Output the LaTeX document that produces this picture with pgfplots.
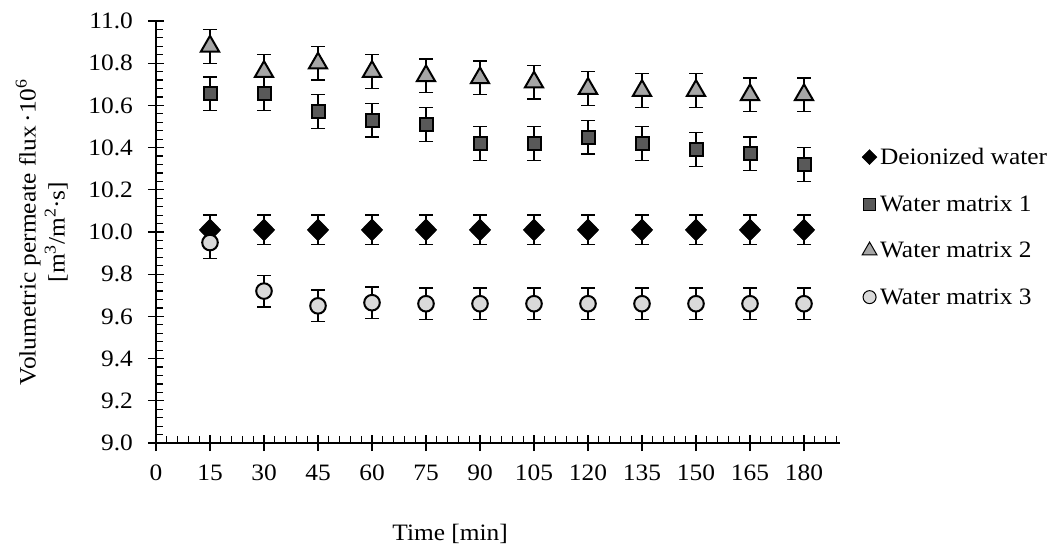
\documentclass[border=0pt]{standalone}
\usepackage{pgfplots}
\usepackage{pgfplotstable}
\pgfplotsset{compat=1.18}
\usepackage{fontspec}
\setmainfont{Liberation Serif}[FakeStretch=1.08]
\newcommand\fs{\fontsize{23.5bp}{29bp}\selectfont}
\definecolor{dg}{HTML}{595959}
\definecolor{mg}{HTML}{A6A6A6}
\definecolor{lg}{HTML}{D9D9D9}

\pgfplotstableread{
x y e
15 10.01 0.07
30 10.01 0.07
45 10.01 0.07
60 10.01 0.07
75 10.01 0.07
90 10.01 0.07
105 10.01 0.07
120 10.01 0.07
135 10.01 0.07
150 10.01 0.07
165 10.01 0.07
180 10.01 0.07
}\deion
\pgfplotstableread{
x y e
15 10.655 0.08
30 10.655 0.08
45 10.57 0.08
60 10.53 0.08
75 10.51 0.08
90 10.42 0.08
105 10.42 0.08
120 10.45 0.08
135 10.42 0.08
150 10.39 0.08
165 10.37 0.08
180 10.32 0.08
}\wmone
\pgfplotstableread{
x y e
15 10.88 0.08
30 10.76 0.08
45 10.80 0.08
60 10.76 0.08
75 10.74 0.08
90 10.73 0.08
105 10.71 0.08
120 10.68 0.08
135 10.67 0.08
150 10.67 0.08
165 10.65 0.08
180 10.65 0.08
}\wmtwo
\pgfplotstableread{
x y e
15 9.95 0.075
30 9.72 0.075
45 9.65 0.075
60 9.665 0.075
75 9.66 0.075
90 9.66 0.075
105 9.66 0.075
120 9.66 0.075
135 9.66 0.075
150 9.66 0.075
165 9.66 0.075
180 9.66 0.075
}\wmthree

\begin{document}
\begin{tikzpicture}
\path[use as bounding box] (0,0) rectangle (1063bp,547bp);
\begin{axis}[
  at={(156bp,104bp)}, anchor=south west,
  scale only axis, width=684bp, height=422bp,
  xmin=0, xmax=190, ymin=9, ymax=11,
  axis lines*=left,
  axis line style={line width=1.3bp},
  xtick={0,15,...,180},
  minor xtick={3,6,...,189},
  ytick={9,9.2,...,11.01},
  minor y tick num=4,
  tick align=inside,
  major tick length=16bp, minor tick length=7bp,
  tick style={black, line width=1.2bp},
  major x tick style={yshift=-8bp},
  major y tick style={xshift=-8bp},
  /pgf/number format/assume math mode=true,
  yticklabel={\pgfmathprintnumber[fixed,fixed zerofill,precision=1]{\tick}},
  xticklabel={\pgfmathprintnumber[fixed,precision=0]{\tick}},
  tick label style={font=\fs, inner sep=0pt},
  yticklabel style={anchor=east, xshift=-23bp},
  xticklabel style={anchor=north, yshift=-22bp},
  ylabel={Volumetric permeate flux\,·10\textsuperscript{6}\\{[}m\textsuperscript{3}/m\textsuperscript{2}·s{]}},
  ylabel style={font=\fs, align=center, at={(axis description cs:-0.167,0.5)}, anchor=center},
  xlabel={Time [min]},
  xlabel style={font=\fs, at={(axis description cs:0.43,0)}, anchor=base, yshift=-97bp},
  error bars/y dir=both, error bars/y explicit,
  error bars/error bar style={black, line width=1.3bp},
  error bars/error mark options={rotate=90, mark size=7bp, line width=1.3bp, black},
  legend style={draw=none, fill=none, font=\fs, inner sep=0pt, row sep=23.5bp,
    at={(axis description cs:1.032,0.512)}, anchor=west,
    nodes={inner sep=3bp}},
  legend cell align=left,
  legend image code/.code={\draw[#1] plot coordinates {(0bp,0bp)};},
]
\addplot[only marks, forget plot, mark=diamond*, mark size=11bp,
  mark options={draw=black, fill=black, xscale=1.3, line width=0.5bp}]
  table[x=x, y=y, y error=e] {\deion};
\addplot[only marks, forget plot, mark=square*, mark size=6.5bp,
  mark options={draw=black, fill=dg, line width=2bp}]
  table[x=x, y=y, y error=e] {\wmone};
\addplot[only marks, forget plot, mark=triangle*, mark size=10.5bp,
  mark options={draw=black, fill=mg, line width=2bp}]
  table[x=x, y=y, y error=e] {\wmtwo};
\addplot[only marks, forget plot, mark=*, mark size=7.8bp,
  mark options={draw=black, fill=lg, line width=2bp}]
  table[x=x, y=y, y error=e] {\wmthree};

\addlegendimage{mark=diamond*, mark size=7.5bp, mark options={draw=black, fill=black, xscale=1.33, line width=0.4bp}}
\addlegendentry{Deionized water}
\addlegendimage{mark=square*, mark size=6bp, mark options={draw=black, fill=dg, line width=1bp}}
\addlegendentry{Water matrix 1}
\addlegendimage{mark=triangle*, mark size=8.5bp, mark options={draw=black, fill=mg, line width=1bp}}
\addlegendentry{Water matrix 2}
\addlegendimage{mark=*, mark size=6.5bp, mark options={draw=black, fill=lg, line width=1bp}}
\addlegendentry{Water matrix 3}
\end{axis}
\end{tikzpicture}
\end{document}
